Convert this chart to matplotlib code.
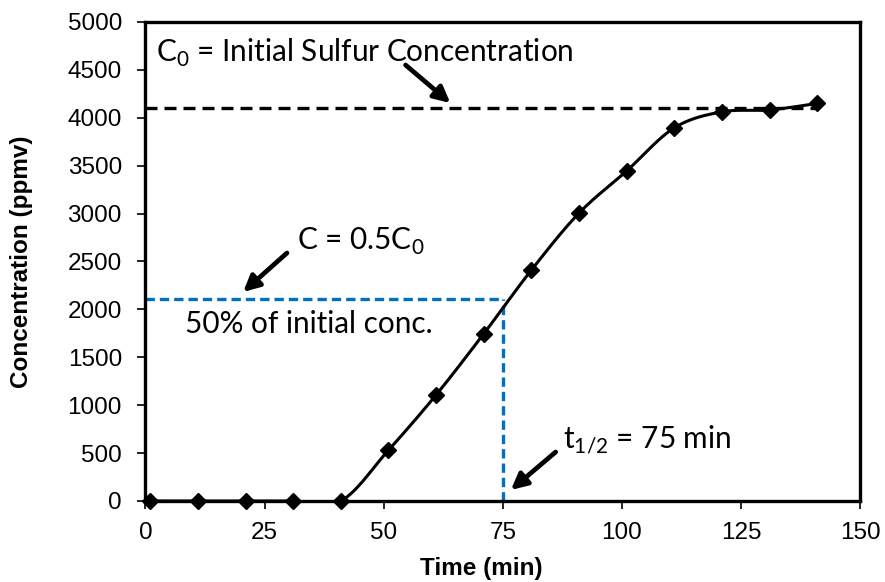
import numpy as np
import matplotlib
matplotlib.use("Agg")
import matplotlib.pyplot as plt

# ---- data ----
time_min = [1, 11, 21, 31, 41, 51, 61, 71, 81, 91, 101, 111, 121, 131, 141]
conc_ppmv = [0, 0, 0, 0, 0, 530, 1107, 1745, 2410, 3005, 3445, 3895, 4062, 4082, 4150]
c0_level = 4100
half_level = 2110
t_half = 75
x_ticks = [0, 25, 50, 75, 100, 125, 150]
y_ticks = list(range(0, 5001, 500))

plt.rcParams['font.family'] = ['Liberation Sans', 'DejaVu Sans']
plt.rcParams['mathtext.fontset'] = 'custom'
plt.rcParams['mathtext.rm'] = 'Lato'

fig = plt.figure(figsize=(8.85, 5.82), dpi=100)
ax = fig.add_axes([0.1644, 0.1392, 0.8074, 0.8230])


def catmull_rom(xs, ys, n=30):
    xs = np.asarray(xs, float); ys = np.asarray(ys, float)
    px = np.concatenate([[xs[0]], xs, [xs[-1]]])
    py = np.concatenate([[ys[0]], ys, [ys[-1]]])
    ox, oy = [], []
    for i in range(1, len(px) - 2):
        p0 = np.array([px[i - 1], py[i - 1]]); p1 = np.array([px[i], py[i]])
        p2 = np.array([px[i + 1], py[i + 1]]); p3 = np.array([px[i + 2], py[i + 2]])
        c1 = p1 + (p2 - p0) / 6.0
        c2 = p2 - (p3 - p1) / 6.0
        t = np.linspace(0, 1, n)[:, None]
        b = ((1 - t) ** 3) * p1 + 3 * ((1 - t) ** 2) * t * c1 + 3 * (1 - t) * t ** 2 * c2 + t ** 3 * p2
        ox.extend(b[:, 0]); oy.extend(b[:, 1])
    return np.array(ox), np.array(oy)

sx, sy = catmull_rom(time_min, conc_ppmv)

# reference lines
ax.plot([0, time_min[-1]], [c0_level, c0_level], color='black', lw=2.4,
        linestyle=(0, (3.6, 2.1)), zorder=2)
ax.plot([0, t_half], [half_level, half_level], color='#0070C0', lw=2.4,
        linestyle=(0, (2.8, 1.5)), zorder=2)
ax.plot([t_half, t_half], [0, half_level], color='#0070C0', lw=2.4,
        linestyle=(0, (2.8, 1.5)), zorder=2)

ax.plot(sx, sy, color='black', lw=2.2, zorder=3)
ax.plot(time_min, conc_ppmv, linestyle='none', marker='D', ms=8.5,
        color='black', zorder=4, clip_on=False)

ax.set_xlim(0, 150)
ax.set_ylim(0, 5000)
ax.set_xticks(x_ticks)
ax.set_yticks(y_ticks)
ax.tick_params(direction='out', length=6, width=1.2, labelsize=17.5, pad=9,
               colors='black')
ax.tick_params(axis='y', pad=11)
for s in ax.spines.values():
    s.set_linewidth(2.4)
    s.set_color('black')

ax.set_xlabel('Time (min)', fontsize=17.5, fontweight='bold')
ax.set_ylabel('Concentration (ppmv)', fontsize=17.5, fontweight='bold')
ax.xaxis.set_label_coords(0.4696, -0.117)
ax.yaxis.set_label_coords(-0.158, 0.5)

ann_font = dict(family=['Lato', 'DejaVu Sans'], fontsize=21.4, color='black')
arrow = dict(arrowstyle='-|>', lw=3.4, color='black', mutation_scale=24,
             shrinkA=0, shrinkB=0)

ax.text(2.3, 4680, r'C$_\mathregular{0}$ = Initial Sulfur Concentration',
        va='center', ha='left', **ann_font)
ax.annotate('', xy=(64.0, 4154), xytext=(54.6, 4551), arrowprops=arrow)

ax.text(31.9, 2710, r'C = 0.5C$_\mathregular{0}$', va='center', ha='left', **ann_font)
ax.annotate('', xy=(20.5, 2182), xytext=(29.7, 2589), arrowprops=arrow)

ax.text(8.3, 1845, '50% of initial conc.', va='center', ha='left', **ann_font)

ax.text(87.6, 650, r't$_\mathregular{1/2}$ = 75 min', va='center', ha='left', **ann_font)
ax.annotate('', xy=(76.7, 115), xytext=(86.1, 511), arrowprops=arrow)

fig.savefig('out.png', dpi=100)
